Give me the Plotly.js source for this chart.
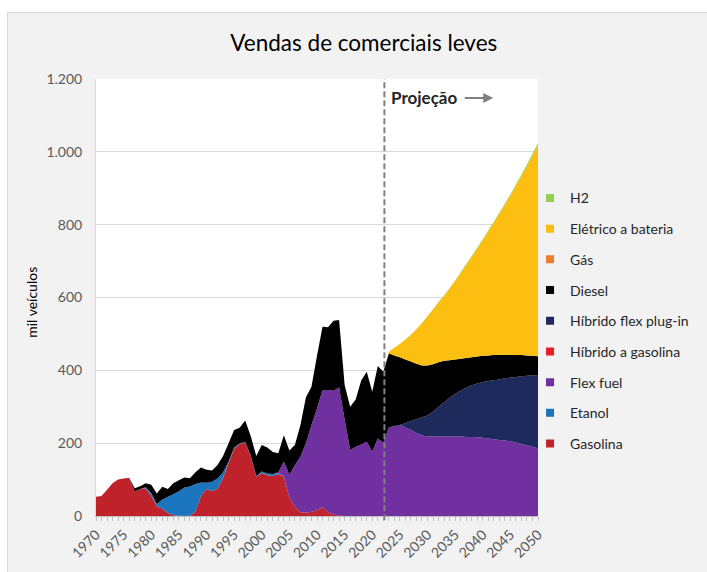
<!DOCTYPE html>
<html>
<head>
<meta charset="utf-8">
<script src="https://cdn.plot.ly/plotly-3.0.1.min.js"></script>
<style>
  html, body { margin: 0; padding: 0; background: #ffffff; }
  #frame { position: absolute; left: 7px; top: 12px; width: 700px; height: 560px;
           border-left: 1px solid #d9d9d9; border-top: 1px solid #d9d9d9; background: #f2f2f2; box-sizing: border-box; }
  #chart { position: absolute; left: 0px; top: 0px; width: 699px; height: 559px; }
</style>
</head>
<body>
<div id="frame"><div id="chart"></div></div>
<script>
// ---- DATA (mil veículos) ----
const years = [1970,1971,1972,1973,1974,1975,1976,1977,1978,1979,
               1980,1981,1982,1983,1984,1985,1986,1987,1988,1989,
               1990,1991,1992,1993,1994,1995,1996,1997,1998,1999,
               2000,2001,2002,2003,2004,2005,2006,2007,2008,2009,
               2010,2011,2012,2013,2014,2015,2016,2017,2018,2019,
               2020,2021,2022,2023,2024,2025,2026,2027,2028,2029,
               2030,2031,2032,2033,2034,2035,2036,2037,2038,2039,
               2040,2041,2042,2043,2044,2045,2046,2047,2048,2049,2050];

const gasolina = [53,55,72,90,100,103,105,68,74,76,
                  55,27,20,8,2,1,0,1,12,55,
                  74,68,75,105,145,185,198,202,165,108,
                  118,112,110,115,108,50,26,10,9,12,
                  16,24,10,4,1,0,0,0,0,0,
                  0,0,0,0,0,0,0,0,0,0,
                  0,0,0,0,0,0,0,0,0,0,
                  0,0,0,0,0,0,0,0,0,0,0];

const etanol = [0,0,0,0,0,0,0,0,0,3,
                8,6,25,45,58,67,78,80,76,37,
                17,26,28,15,5,3,1,1,1,2,
                4,5,5,3,1,0,0,0,0,0,
                0,0,0,0,0,0,0,0,0,0,
                0,0,0,0,0,0,0,0,0,0,
                0,0,0,0,0,0,0,0,0,0,
                0,0,0,0,0,0,0,0,0,0,0];

const flexFuel = [0,0,0,0,0,0,0,0,0,0,
                  0,0,0,0,0,0,0,0,0,0,
                  0,0,0,0,0,0,0,0,0,0,
                  0,0,0,2,41,63,114,153,191,238,
                  279,322,336,340,352,265,181,190,196,204,
                  177,213,201,243,247,250,243,236,228,221,
                  218,218,218,218,218,218,218,217,217,216,
                  215,213,211,209,207,205,202,198,194,190,186];

const hibridoGasolina = [0,0,0,0,0,0,0,0,0,0,
                         0,0,0,0,0,0,0,0,0,0,
                         0,0,0,0,0,0,0,0,0,0,
                         0,0,0,0,0,0,0,0,0,0,
                         0,0,0,0,0,0,0,0,0,0,
                         0,0,0,0,0,0,0,0,0,0,
                         0,0,0,0,0,0,0,0,0,0,
                         0,0,0,0,0,0,0,0,0,0,0];

const hibridoFlexPlugin = [0,0,0,0,0,0,0,0,0,0,
                           0,0,0,0,0,0,0,0,0,0,
                           0,0,0,0,0,0,0,0,0,0,
                           0,0,0,0,0,0,0,0,0,0,
                           0,0,0,0,0,0,0,0,0,0,
                           0,0,0,0,0,0,12,25,38,50,
                           58,69,82,94,107,117,126,135,142,148,
                           153,158,162,166,171,175,180,186,191,196,201];

const diesel = [0,0,0,0,0,0,0,8,8,11,
                23,29,35,21,30,30,28,23,32,41,
                36,31,37,45,50,48,43,59,54,55,
                73,71,61,52,72,67,55,87,126,105,
                145,174,172,192,185,95,119,130,176,192,
                164,199,195,204,194,186,175,163,152,142,
                137,130,122,114,103,95,88,82,77,74,
                72,70,69,68,65,63,60,58,56,54,52];

const gas = [0,0,0,0,0,0,0,0,0,0,
             0,0,0,0,0,0,0,0,0,0,
             0,0,0,0,0,0,0,0,0,0,
             0,0,0,0,0,0,0,0,0,0,
             0,0,0,0,0,0,0,0,0,0,
             0,0,0,0,0,0,0,0,0,0,
             0,0,0,0,0,0,0,0,0,0,
             0,0,0,0,0,0,0,0,0,0,0];

const eletrico = [0,0,0,0,0,0,0,0,0,0,
                  0,0,0,0,0,0,0,0,0,0,
                  0,0,0,0,0,0,0,0,0,0,
                  0,0,0,0,0,0,0,0,0,0,
                  0,0,0,0,0,0,0,0,0,0,
                  0,0,0,4,21,36,55,74,95,117,
                  135,150,165,179,197,215,235,256,276,297,
                  318,341,364,387,412,437,465,492,521,550,580];

const h2 = [0,0,0,0,0,0,0,0,0,0,
            0,0,0,0,0,0,0,0,0,0,
            0,0,0,0,0,0,0,0,0,0,
            0,0,0,0,0,0,0,0,0,0,
            0,0,0,0,0,0,0,0,0,0,
            0,0,0,0,0,0,0,0,0,0,
            1,1,1,1,1,2,2,2,2,2,
            2,3,3,3,3,3,4,4,4,5,5];

const xTickVals = [1970,1975,1980,1985,1990,1995,2000,2005,2010,2015,2020,2025,2030,2035,2040,2045,2050];
const xTickLabels = ['1970','1975','1980','1985','1990','1995','2000','2005','2010','2015','2020','2025','2030','2035','2040','2045','2050'];
const projectionStart = 2022.2;

const seriesNames  = ['Gasolina','Etanol','Flex fuel','Híbrido a gasolina','Híbrido flex plug-in','Diesel','Gás','Elétrico a bateria','H2'];
const seriesValues = [gasolina, etanol, flexFuel, hibridoGasolina, hibridoFlexPlugin, diesel, gas, eletrico, h2];
const seriesColors = ['#c0222b','#1b75bc','#7030a0','#ee1c25','#1f2a5c','#000000','#ed7d31','#fcbf11','#92d050'];

const FONT = 'Lato, "Open Sans", "Liberation Sans", sans-serif';

const traces = [];
seriesNames.forEach((name, i) => {
  traces.push({
    type: 'scatter', x: years, y: seriesValues[i], name: name,
    stackgroup: 'one', mode: 'none', fillcolor: seriesColors[i],
    line: {width: 0}, showlegend: false, hoverinfo: 'x+y+name'
  });
});
// legend entries (small squares), top of stack listed first
for (let i = seriesNames.length - 1; i >= 0; i--) {
  traces.push({
    type: 'scatter', x: [null], y: [null], name: seriesNames[i], mode: 'markers',
    marker: {symbol: 'square', size: 8, color: seriesColors[i]},
    legendgroup: 'g' + i, showlegend: true, hoverinfo: 'skip'
  });
}

const layout = {
  width: 699, height: 559,
  margin: {l: 88, r: 169, t: 66, b: 56},
  paper_bgcolor: '#f2f2f2',
  plot_bgcolor: '#ffffff',
  separators: ',.',
  font: {family: FONT, size: 14, color: '#262626'},
  title: {text: 'Vendas de comerciais leves', font: {family: FONT, size: 22.5, color: '#000000'},
          xref: 'container', x: 0.509, xanchor: 'center', yref: 'container', y: 0.946, yanchor: 'middle'},
  xaxis: {
    range: [1970, 2050], tickmode: 'array', tickvals: xTickVals, ticktext: xTickLabels,
    tickangle: -45, tickfont: {family: FONT, size: 14, color: '#595959'},
    ticks: 'outside', ticklen: 4, tickcolor: '#bfbfbf', tickwidth: 1,
    minor: {tickmode: 'linear', tick0: 1970, dtick: 1, ticks: 'outside', ticklen: 4, tickcolor: '#bfbfbf', tickwidth: 1, showgrid: false},
    showgrid: false, showline: true, linecolor: '#bfbfbf', linewidth: 1, zeroline: false, fixedrange: true
  },
  yaxis: {
    range: [0, 1200], dtick: 200, tick0: 0, tickformat: ',d',
    tickfont: {family: FONT, size: 14, color: '#595959'},
    ticks: '', ticklabelstandoff: 10,
    showgrid: true, gridcolor: '#d9d9d9', gridwidth: 1,
    showline: true, linecolor: '#d9d9d9', linewidth: 1, zeroline: false, fixedrange: true
  },
  legend: {
    x: 0.982, xanchor: 'left', y: 0.7635, yanchor: 'top',
    traceorder: 'grouped', tracegroupgap: 9.5,
    bgcolor: 'rgba(0,0,0,0)', borderwidth: 0,
    font: {family: FONT, size: 14, color: '#262626'}
  },
  shapes: [{
    type: 'line', xref: 'x', yref: 'paper', x0: projectionStart, x1: projectionStart, y0: -0.01, y1: 1,
    line: {color: '#808080', width: 2, dash: '6px,3px'}
  }],
  annotations: [
    {xref: 'paper', yref: 'paper', x: -0.145, y: 0.49, xanchor: 'center', yanchor: 'middle', textangle: -90,
     showarrow: false, text: 'mil veículos', font: {family: FONT, size: 14, color: '#000000'}},
    {xref: 'x', yref: 'y', x: 2023, y: 1148, xanchor: 'left', yanchor: 'middle', showarrow: false,
     text: '<b>Projeção</b>', font: {family: FONT, size: 17, color: '#262626'}},
    {xref: 'x', yref: 'y', x: 2041.9, y: 1148, ax: -30, ay: 0, axref: 'pixel', ayref: 'pixel',
     showarrow: true, arrowhead: 2, arrowsize: 1, arrowwidth: 2, arrowcolor: '#808080', text: ''}
  ],
  showlegend: true
};

Plotly.newPlot('chart', traces, layout, {displayModeBar: false, staticPlot: true});
</script>
</body>
</html>
